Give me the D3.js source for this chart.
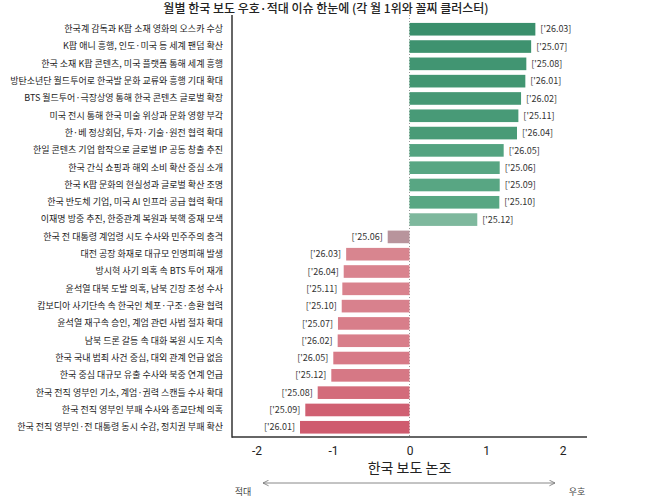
<!DOCTYPE html>
<html>
<head>
<meta charset="utf-8">
<script src="https://cdn.jsdelivr.net/npm/d3@7"></script>
<style>
  body { margin: 0; background: #fff; }
  text { font-family: "Noto Sans CJK KR", "Noto Sans", sans-serif; }
</style>
</head>
<body>
<div id="chart-area"></div>
<script>

// data (top to bottom)
var issues = [
	"한국계 감독과 K팝 소재 영화의 오스카 수상",
	"K팝 애니 흥행, 인도·미국 등 세계 팬덤 확산",
	"한국 소재 K팝 콘텐츠, 미국 플랫폼 통해 세계 흥행",
	"방탄소년단 월드투어로 한국발 문화 교류와 흥행 기대 확대",
	"BTS 월드투어·극장상영 통해 한국 콘텐츠 글로벌 확장",
	"미국 전시 통해 한국 미술 위상과 문화 영향 부각",
	"한·베 정상회담, 투자·기술·원전 협력 확대",
	"한일 콘텐츠 기업 합작으로 글로벌 IP 공동 창출 추진",
	"한국 간식 쇼핑과 해외 소비 확산 중심 소개",
	"한국 K팝 문화의 현실성과 글로벌 확산 조명",
	"한국 반도체 기업, 미국 AI 인프라 공급 협력 확대",
	"이재명 방중 추진, 한중관계 복원과 북핵 중재 모색",
	"한국 전 대통령 계엄령 시도 수사와 민주주의 충격",
	"대전 공장 화재로 대규모 인명피해 발생",
	"방시혁 사기 의혹 속 BTS 투어 재개",
	"윤석열 대북 도발 의혹, 남북 긴장 조성 수사",
	"캄보디아 사기단속 속 한국인 체포·구조·송환 협력",
	"윤석열 재구속 승인, 계엄 관련 사법 절차 확대",
	"남북 드론 갈등 속 대화 복원 시도 지속",
	"한국 국내 범죄 사건 중심, 대외 관계 언급 없음",
	"한국 중심 대규모 유출 수사와 북중 연계 언급",
	"한국 전직 영부인 기소, 계엄·권력 스캔들 수사 확대",
	"한국 전직 영부인 부패 수사와 종교단체 의혹",
	"한국 전직 영부인·전 대통령 동시 수감, 정치권 부패 확산"
]

var months = [
	"['26.03]", "['25.07]", "['25.08]", "['26.01]", "['26.02]", "['25.11]",
	"['26.04]", "['26.05]", "['25.06]", "['25.09]", "['25.10]", "['25.12]",
	"['25.06]", "['26.03]", "['26.04]", "['25.11]", "['25.10]", "['25.07]",
	"['26.02]", "['26.05]", "['25.12]", "['25.08]", "['25.09]", "['26.01]"
]

var tones = [
	1.645, 1.59, 1.527, 1.514, 1.458, 1.423,
	1.405, 1.231, 1.179, 1.179, 1.174, 0.886,
	-0.285, -0.828, -0.86, -0.878, -0.886, -0.935,
	-0.939, -0.996, -1.022, -1.2, -1.362, -1.431
]

var xTicks = [-2, -1, 0, 1, 2]

var data = issues.map(function(d, i){
	return {issue: d, month: months[i], tone: tones[i]}
})

//SVG
var width = 658, height = 504
var plot = {left: 232, right: 587, top: 15, bottom: 437}

var svg = d3.select('#chart-area').append('svg')
	.attr('width', width)
	.attr('height', height)

//title
svg.append('text')
	.attr('x', 326)
	.attr('y', 13)
	.attr('text-anchor', 'middle')
	.attr('font-size', '12px')
	.attr('font-weight', 500)
	.attr('fill', '#222')
	.text('월별 한국 보도 우호·적대 이슈 한눈에 (각 월 1위와 꼴찌 클러스터)')

//scales
var xScale = d3.scaleLinear()
	.domain([-2.32, 2.32])
	.range([plot.left, plot.right])

var yScale = d3.scaleBand()
	.domain(issues)
	.range([18.25, 438.25])
	.padding(0.27)

var colorScale = d3.scaleLinear()
	.domain([-1.45, -0.85, -0.3, 0, 0.9, 1.2, 1.65])
	.range(['#cf5a6d', '#d9848f', '#b8939b', '#c0a8ae', '#7db89d', '#55a581', '#3a8f6c'])

//zero line
svg.append('line')
	.attr('x1', xScale(0)).attr('x2', xScale(0))
	.attr('y1', plot.top).attr('y2', plot.bottom)
	.attr('stroke', '#999')
	.attr('stroke-width', 1)
	.attr('stroke-dasharray', '1,2')

//bars
svg.selectAll('rect.bar')
	.data(data)
	.enter()
	.append('rect')
	.attr('class', 'bar')
	.attr('x', function(d){ return xScale(Math.min(0, d.tone)) })
	.attr('y', function(d){ return yScale(d.issue) })
	.attr('width', function(d){ return Math.abs(xScale(d.tone) - xScale(0)) })
	.attr('height', yScale.bandwidth())
	.attr('fill', function(d){ return colorScale(d.tone) })

//month labels next to the bars
svg.selectAll('text.month')
	.data(data)
	.enter()
	.append('text')
	.attr('class', 'month')
	.attr('x', function(d){ return d.tone >= 0 ? xScale(d.tone) + 5 : xScale(d.tone) - 5 })
	.attr('y', function(d){ return yScale(d.issue) + yScale.bandwidth() / 2 })
	.attr('dy', '0.35em')
	.attr('text-anchor', function(d){ return d.tone >= 0 ? 'start' : 'end' })
	.attr('font-size', '9px')
	.attr('fill', '#333')
	.text(function(d){ return d.month })

//y axis labels (no ticks)
var yAxis = d3.axisLeft(yScale).tickSize(0).tickPadding(9)
var yG = svg.append('g')
	.attr('transform', 'translate(' + plot.left + ',0)')
	.call(yAxis)
yG.select('.domain').remove()
yG.selectAll('text')
	.attr('font-size', '9px')
	.attr('fill', '#222')
	.style('font-family', '"Noto Sans CJK KR", sans-serif')

//x axis, hyphen minus like the reference
var xAxis = d3.axisBottom(xScale)
	.tickValues(xTicks)
	.tickSize(0)
	.tickPadding(9)
	.tickFormat(function(d){ return String(d) })
var xG = svg.append('g')
	.attr('transform', 'translate(0,' + plot.bottom + ')')
	.call(xAxis)
xG.select('.domain').remove()
xG.selectAll('text')
	.attr('font-size', '12px')
	.attr('fill', '#222')
	.style('font-family', 'Roboto, sans-serif')

//spines: left and bottom only
svg.append('line')
	.attr('x1', plot.left).attr('x2', plot.left)
	.attr('y1', plot.top).attr('y2', plot.bottom + 0.75)
	.attr('stroke', '#333').attr('stroke-width', 1.5)
svg.append('line')
	.attr('x1', plot.left).attr('x2', plot.right)
	.attr('y1', plot.bottom).attr('y2', plot.bottom)
	.attr('stroke', '#333').attr('stroke-width', 1.5)

//x label
svg.append('text')
	.attr('x', xScale(0))
	.attr('y', 473)
	.attr('text-anchor', 'middle')
	.attr('font-size', '14px')
	.attr('fill', '#222')
	.text('한국 보도 논조')

//double headed arrow under the axis
var defs = svg.append('defs')
defs.append('marker')
	.attr('id', 'head')
	.attr('viewBox', '0 0 10 10')
	.attr('refX', 9).attr('refY', 5)
	.attr('markerWidth', 7).attr('markerHeight', 7)
	.attr('orient', 'auto-start-reverse')
	.append('path')
	.attr('d', 'M1,1 L9,5 L1,9')
	.attr('fill', 'none')
	.attr('stroke', '#777')
	.attr('stroke-width', 1.2)

svg.append('line')
	.attr('x1', 263).attr('x2', 555)
	.attr('y1', 483).attr('y2', 483)
	.attr('stroke', '#888')
	.attr('stroke-width', 1)
	.attr('marker-start', 'url(#head)')
	.attr('marker-end', 'url(#head)')

svg.append('text')
	.attr('x', 243).attr('y', 495)
	.attr('text-anchor', 'middle')
	.attr('font-size', '9px')
	.attr('fill', '#444')
	.text('적대')

svg.append('text')
	.attr('x', 577).attr('y', 495)
	.attr('text-anchor', 'middle')
	.attr('font-size', '9px')
	.attr('fill', '#444')
	.text('우호')

</script>
</body>
</html>
